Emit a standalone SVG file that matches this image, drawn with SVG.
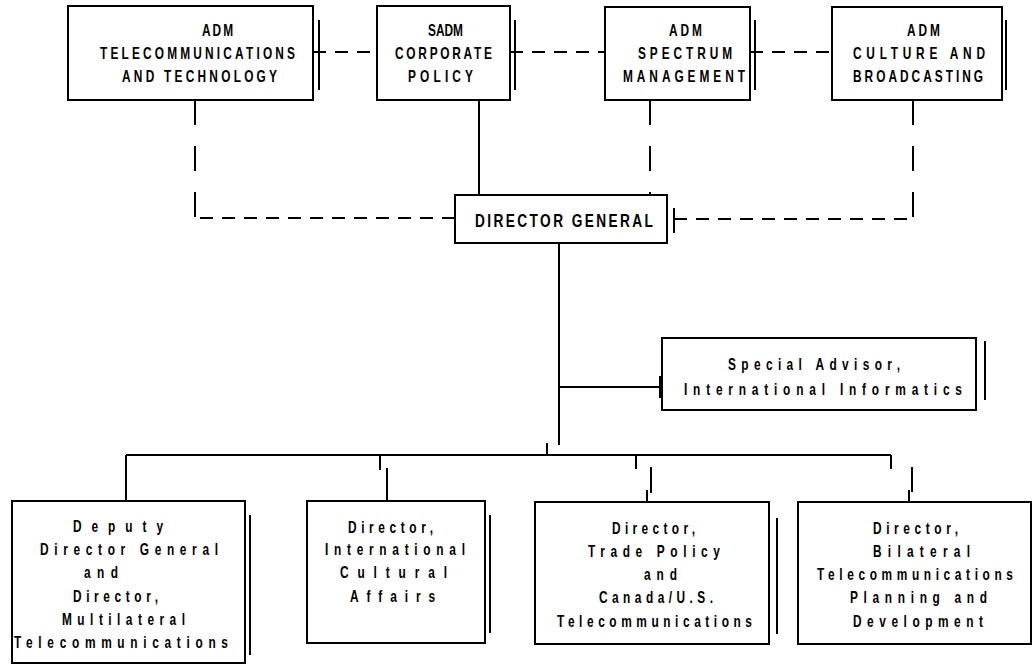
<svg xmlns="http://www.w3.org/2000/svg" width="1033" height="666" viewBox="0 0 1033 666">
<style>
.box{fill:#fff;stroke:#000;stroke-width:2}
.ex{stroke:#000;stroke-width:2;fill:none}
.ln{stroke:#000;stroke-width:2;fill:none}
.dh{stroke:#000;stroke-width:2;fill:none;stroke-dasharray:13 9}
.dv{stroke:#000;stroke-width:2;fill:none;stroke-dasharray:25 21}
text{font-family:"Liberation Sans",Arial,sans-serif;font-weight:bold;fill:#000}
.t{font-size:16.5px}
.b{font-size:16.5px}
.dg{font-size:19px}
</style>
<rect width="1033" height="666" fill="#fff"/>
<g id="connectors">
<path class="dh" d="M313 52 H377"/>
<path class="dh" d="M510 52 H605"/>
<path class="dh" d="M750 52 H832"/>
<path class="dv" d="M195 100 V218"/>
<path class="dh" d="M455 218 H195"/>
<path class="ln" d="M479 100 V195"/>
<path class="dv" d="M650 100 V195"/>
<path class="dv" d="M913 100 V219"/>
<path class="dh" d="M674 219 H913"/>
<path class="ln" d="M559 243 V445"/>
<path class="ln" d="M559 387 H660"/>
<path class="ln" d="M547 443 V455"/>
<path class="ln" d="M126 455 H891"/>
<path class="ln" d="M126 455 V501"/>
<path class="ln" d="M380 455 V470 M387 468 V501"/>
<path class="ln" d="M636 455 V469 M651 467 V493 M647 490 V502"/>
<path class="ln" d="M891 455 V469 M912 467 V492 M909 490 V502"/>
</g>
<g id="adm-telecom">
<rect class="box" x="68" y="6" width="245" height="94"/>
<path class="ex" d="M319 20 V90"/>
<text class="t" transform="translate(202 36) scale(.72 1)" textLength="43.1" lengthAdjust="spacing">ADM</text>
<text class="t" transform="translate(100 59) scale(.72 1)" textLength="270.8" lengthAdjust="spacing">TELECOMMUNICATIONS</text>
<text class="t" transform="translate(122 82) scale(.72 1)" textLength="215.3" lengthAdjust="spacing">AND TECHNOLOGY</text>
</g>
<g id="sadm">
<rect class="box" x="377" y="6" width="133" height="94"/>
<path class="ex" d="M515 20 V90"/>
<text class="t" transform="translate(428 36) scale(.72 1)" textLength="48.6" lengthAdjust="spacing">SADM</text>
<text class="t" transform="translate(395 59) scale(.72 1)" textLength="134.7" lengthAdjust="spacing">CORPORATE</text>
<text class="t" transform="translate(408 82) scale(.72 1)" textLength="90.3" lengthAdjust="spacing">POLICY</text>
</g>
<g id="adm-spectrum">
<rect class="box" x="605" y="7" width="145" height="93"/>
<path class="ex" d="M755 20 V90"/>
<text class="t" transform="translate(669 36) scale(.72 1)" textLength="45.8" lengthAdjust="spacing">ADM</text>
<text class="t" transform="translate(638 59) scale(.72 1)" textLength="130.6" lengthAdjust="spacing">SPECTRUM</text>
<text class="t" transform="translate(623 82) scale(.72 1)" textLength="169.4" lengthAdjust="spacing">MANAGEMENT</text>
</g>
<g id="adm-culture">
<rect class="box" x="832" y="7" width="170" height="93"/>
<path class="ex" d="M1006 20 V90"/>
<text class="t" transform="translate(907 36) scale(.72 1)" textLength="45.8" lengthAdjust="spacing">ADM</text>
<text class="t" transform="translate(853 59) scale(.72 1)" textLength="183.3" lengthAdjust="spacing">CULTURE AND</text>
<text class="t" transform="translate(853 82) scale(.72 1)" textLength="180.6" lengthAdjust="spacing">BROADCASTING</text>
</g>
<g id="director-general">
<rect class="box" x="455" y="195" width="212" height="48"/>
<path class="ex" d="M674 208 V233"/>
<text class="dg" transform="translate(475 227) scale(.72 1)" textLength="247.2" lengthAdjust="spacing">DIRECTOR GENERAL</text>
</g>
<g id="special-advisor">
<rect class="box" x="662" y="338" width="314" height="72"/>
<path class="ex" d="M985 341 V400 M660 376 V398"/>
<text class="b" transform="translate(728 370) scale(.72 1)" textLength="238.9" lengthAdjust="spacing">Special Advisor,</text>
<text class="b" transform="translate(684 395) scale(.72 1)" textLength="386.1" lengthAdjust="spacing">International Informatics</text>
</g>
<g id="deputy-dg">
<rect class="box" x="12" y="501" width="233" height="162"/>
<path class="ex" d="M250 515 V655"/>
<text class="b" transform="translate(73 532) scale(.72 1)" textLength="125" lengthAdjust="spacing">Deputy</text>
<text class="b" transform="translate(40 555) scale(.72 1)" textLength="247.2" lengthAdjust="spacing">Director General</text>
<text class="b" transform="translate(84 578) scale(.72 1)" textLength="47.2" lengthAdjust="spacing">and</text>
<text class="b" transform="translate(73 602) scale(.72 1)" textLength="118.1" lengthAdjust="spacing">Director,</text>
<text class="b" transform="translate(62 625) scale(.72 1)" textLength="170.8" lengthAdjust="spacing">Multilateral</text>
<text class="b" transform="translate(14 648) scale(.72 1)" textLength="297.2" lengthAdjust="spacing">Telecommunications</text>
</g>
<g id="dir-cultural">
<rect class="box" x="307" y="501" width="178" height="142"/>
<path class="ex" d="M490 515 V633"/>
<text class="b" transform="translate(348 533) scale(.72 1)" textLength="118.1" lengthAdjust="spacing">Director,</text>
<text class="b" transform="translate(325 555) scale(.72 1)" textLength="194.4" lengthAdjust="spacing">International</text>
<text class="b" transform="translate(340 578) scale(.72 1)" textLength="148.6" lengthAdjust="spacing">Cultural</text>
<text class="b" transform="translate(350 602) scale(.72 1)" textLength="118.1" lengthAdjust="spacing">Affairs</text>
</g>
<g id="dir-trade">
<rect class="box" x="535" y="502" width="234" height="142"/>
<path class="ex" d="M777 518 V634"/>
<text class="b" transform="translate(612 534) scale(.72 1)" textLength="115.3" lengthAdjust="spacing">Director,</text>
<text class="b" transform="translate(588 557) scale(.72 1)" textLength="183.3" lengthAdjust="spacing">Trade Policy</text>
<text class="b" transform="translate(644 580) scale(.72 1)" textLength="45.8" lengthAdjust="spacing">and</text>
<text class="b" transform="translate(599 603) scale(.72 1)" textLength="158.3" lengthAdjust="spacing">Canada/U.S.</text>
<text class="b" transform="translate(557 627) scale(.72 1)" textLength="270.8" lengthAdjust="spacing">Telecommunications</text>
</g>
<g id="dir-bilateral">
<rect class="box" x="798" y="502" width="233" height="142"/>
<text class="b" transform="translate(873 534) scale(.72 1)" textLength="118.1" lengthAdjust="spacing">Director,</text>
<text class="b" transform="translate(873 557) scale(.72 1)" textLength="134.7" lengthAdjust="spacing">Bilateral</text>
<text class="b" transform="translate(817 580) scale(.72 1)" textLength="272.2" lengthAdjust="spacing">Telecommunications</text>
<text class="b" transform="translate(850 603) scale(.72 1)" textLength="190.3" lengthAdjust="spacing">Planning and</text>
<text class="b" transform="translate(853 627) scale(.72 1)" textLength="180.6" lengthAdjust="spacing">Development</text>
</g>
</svg>
